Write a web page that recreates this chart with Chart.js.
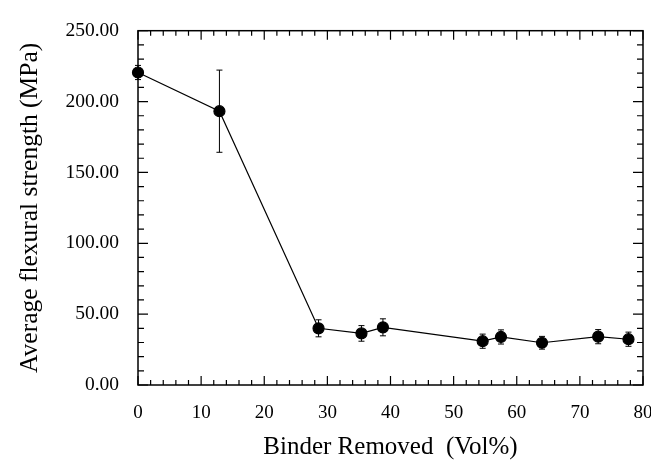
<!DOCTYPE html>
<html>
<head>
<meta charset="utf-8">
<script src="https://cdn.jsdelivr.net/npm/chart.js@4.4.1/dist/chart.umd.min.js"></script>
<style>
  html, body { margin: 0; padding: 0; background: #fff; overflow: hidden; }
  #wrap { width: 651px; height: 460px; overflow: hidden; }
</style>
</head>
<body>
<div id="wrap"><canvas id="myChart" width="670" height="460"></canvas></div>
<script>
// values
const binderRemoved = [0, 12.9, 28.6, 35.4, 38.8, 54.6, 57.5, 64.0, 72.9, 77.7];
const flexStrength = [220.5, 193.2, 40.0, 36.4, 40.7, 30.9, 33.9, 29.8, 34.1, 32.3];
const errBar = [5, 29, 6, 5.5, 6, 5, 5, 4.5, 5, 5];
const xTicks = [0, 10, 20, 30, 40, 50, 60, 70, 80];
const yTicks = [0, 50, 100, 150, 200, 250];

const serif = "'Liberation Serif', 'Times New Roman', serif";

let pts = binderRemoved.map((x, i) => ({ x: x, y: flexStrength[i] }));

// error bars, drawn under the markers
const errorBars = {
  id: "errorBars",
  beforeDatasetsDraw(chart) {
    const ctx = chart.ctx;
    const xs = chart.scales.x, ys = chart.scales.y;
    ctx.save();
    ctx.strokeStyle = "#000";
    ctx.lineWidth = 1;
    pts.forEach((p, i) => {
      const px = xs.getPixelForValue(p.x);
      const top = ys.getPixelForValue(p.y + errBar[i]);
      const bot = ys.getPixelForValue(p.y - errBar[i]);
      ctx.beginPath();
      ctx.moveTo(px, top); ctx.lineTo(px, bot);
      ctx.moveTo(px - 3, top); ctx.lineTo(px + 3, top);
      ctx.moveTo(px - 3, bot); ctx.lineTo(px + 3, bot);
      ctx.stroke();
    });
    ctx.restore();
  }
};

// frame with inward ticks on all four sides
const frame = {
  id: "frame",
  afterDraw(chart) {
    const ctx = chart.ctx;
    const a = chart.chartArea;
    const xs = chart.scales.x, ys = chart.scales.y;
    ctx.save();
    ctx.strokeStyle = "#000";
    ctx.lineWidth = 1.5;
    ctx.strokeRect(a.left, a.top, a.right - a.left, a.bottom - a.top);
    ctx.lineWidth = 1.2;
    ctx.beginPath();
    for (let v = 0; v <= 80; v += 2) {
      const px = xs.getPixelForValue(v);
      const len = v % 10 === 0 ? 9 : 5;
      ctx.moveTo(px, a.bottom); ctx.lineTo(px, a.bottom - len);
      ctx.moveTo(px, a.top); ctx.lineTo(px, a.top + len);
    }
    for (let v = 0; v <= 250; v += 10) {
      const py = ys.getPixelForValue(v);
      const len = v % 50 === 0 ? 10 : 6;
      ctx.moveTo(a.left, py); ctx.lineTo(a.left + len, py);
      ctx.moveTo(a.right, py); ctx.lineTo(a.right - len, py);
    }
    ctx.stroke();
    ctx.restore();
  }
};

const ctx = document.getElementById("myChart").getContext("2d");
const myChart = new Chart(ctx, {
  type: "scatter",
  data: {
    datasets: [{
      data: pts,
      showLine: true,
      borderColor: "#000",
      borderWidth: 1.2,
      backgroundColor: "#000",
      pointBackgroundColor: "#000",
      pointBorderColor: "#000",
      pointRadius: 5.5,
      clip: false
    }]
  },
  options: {
    responsive: false,
    animation: false,
    events: [],
    layout: { padding: { left: 0, top: 21, right: 27, bottom: 0 } },
    plugins: { legend: { display: false }, tooltip: { enabled: false } },
    scales: {
      x: {
        type: "linear",
        min: 0, max: 80,
        afterFit: s => { s.height = 75; },
        afterBuildTicks: s => { s.ticks = xTicks.map(v => ({ value: v })); },
        grid: { display: false, drawTicks: false },
        border: { display: false },
        ticks: {
          color: "#000",
          padding: 17,
          font: { family: serif, size: 19 },
          callback: v => String(v)
        },
        title: {
          display: true,
          text: "Binder Removed  (Vol%)",
          color: "#000",
          font: { family: serif, size: 25, lineHeight: 1 },
          padding: { top: 0, bottom: 0 }
        }
      },
      y: {
        type: "linear",
        min: 0, max: 250,
        afterFit: s => { s.width = 138; },
        afterBuildTicks: s => { s.ticks = yTicks.map(v => ({ value: v })); },
        grid: { display: false, drawTicks: false },
        border: { display: false },
        ticks: {
          color: "#000",
          padding: 19,
          font: { family: serif, size: 19.5 },
          callback: v => Number(v).toFixed(2)
        },
        title: {
          display: true,
          text: "Average flexural strength (MPa)",
          color: "#000",
          font: { family: serif, size: 25.5, lineHeight: 1 },
          padding: { top: 18, bottom: 0 }
        }
      }
    }
  },
  plugins: [errorBars, frame]
});
</script>
</body>
</html>
